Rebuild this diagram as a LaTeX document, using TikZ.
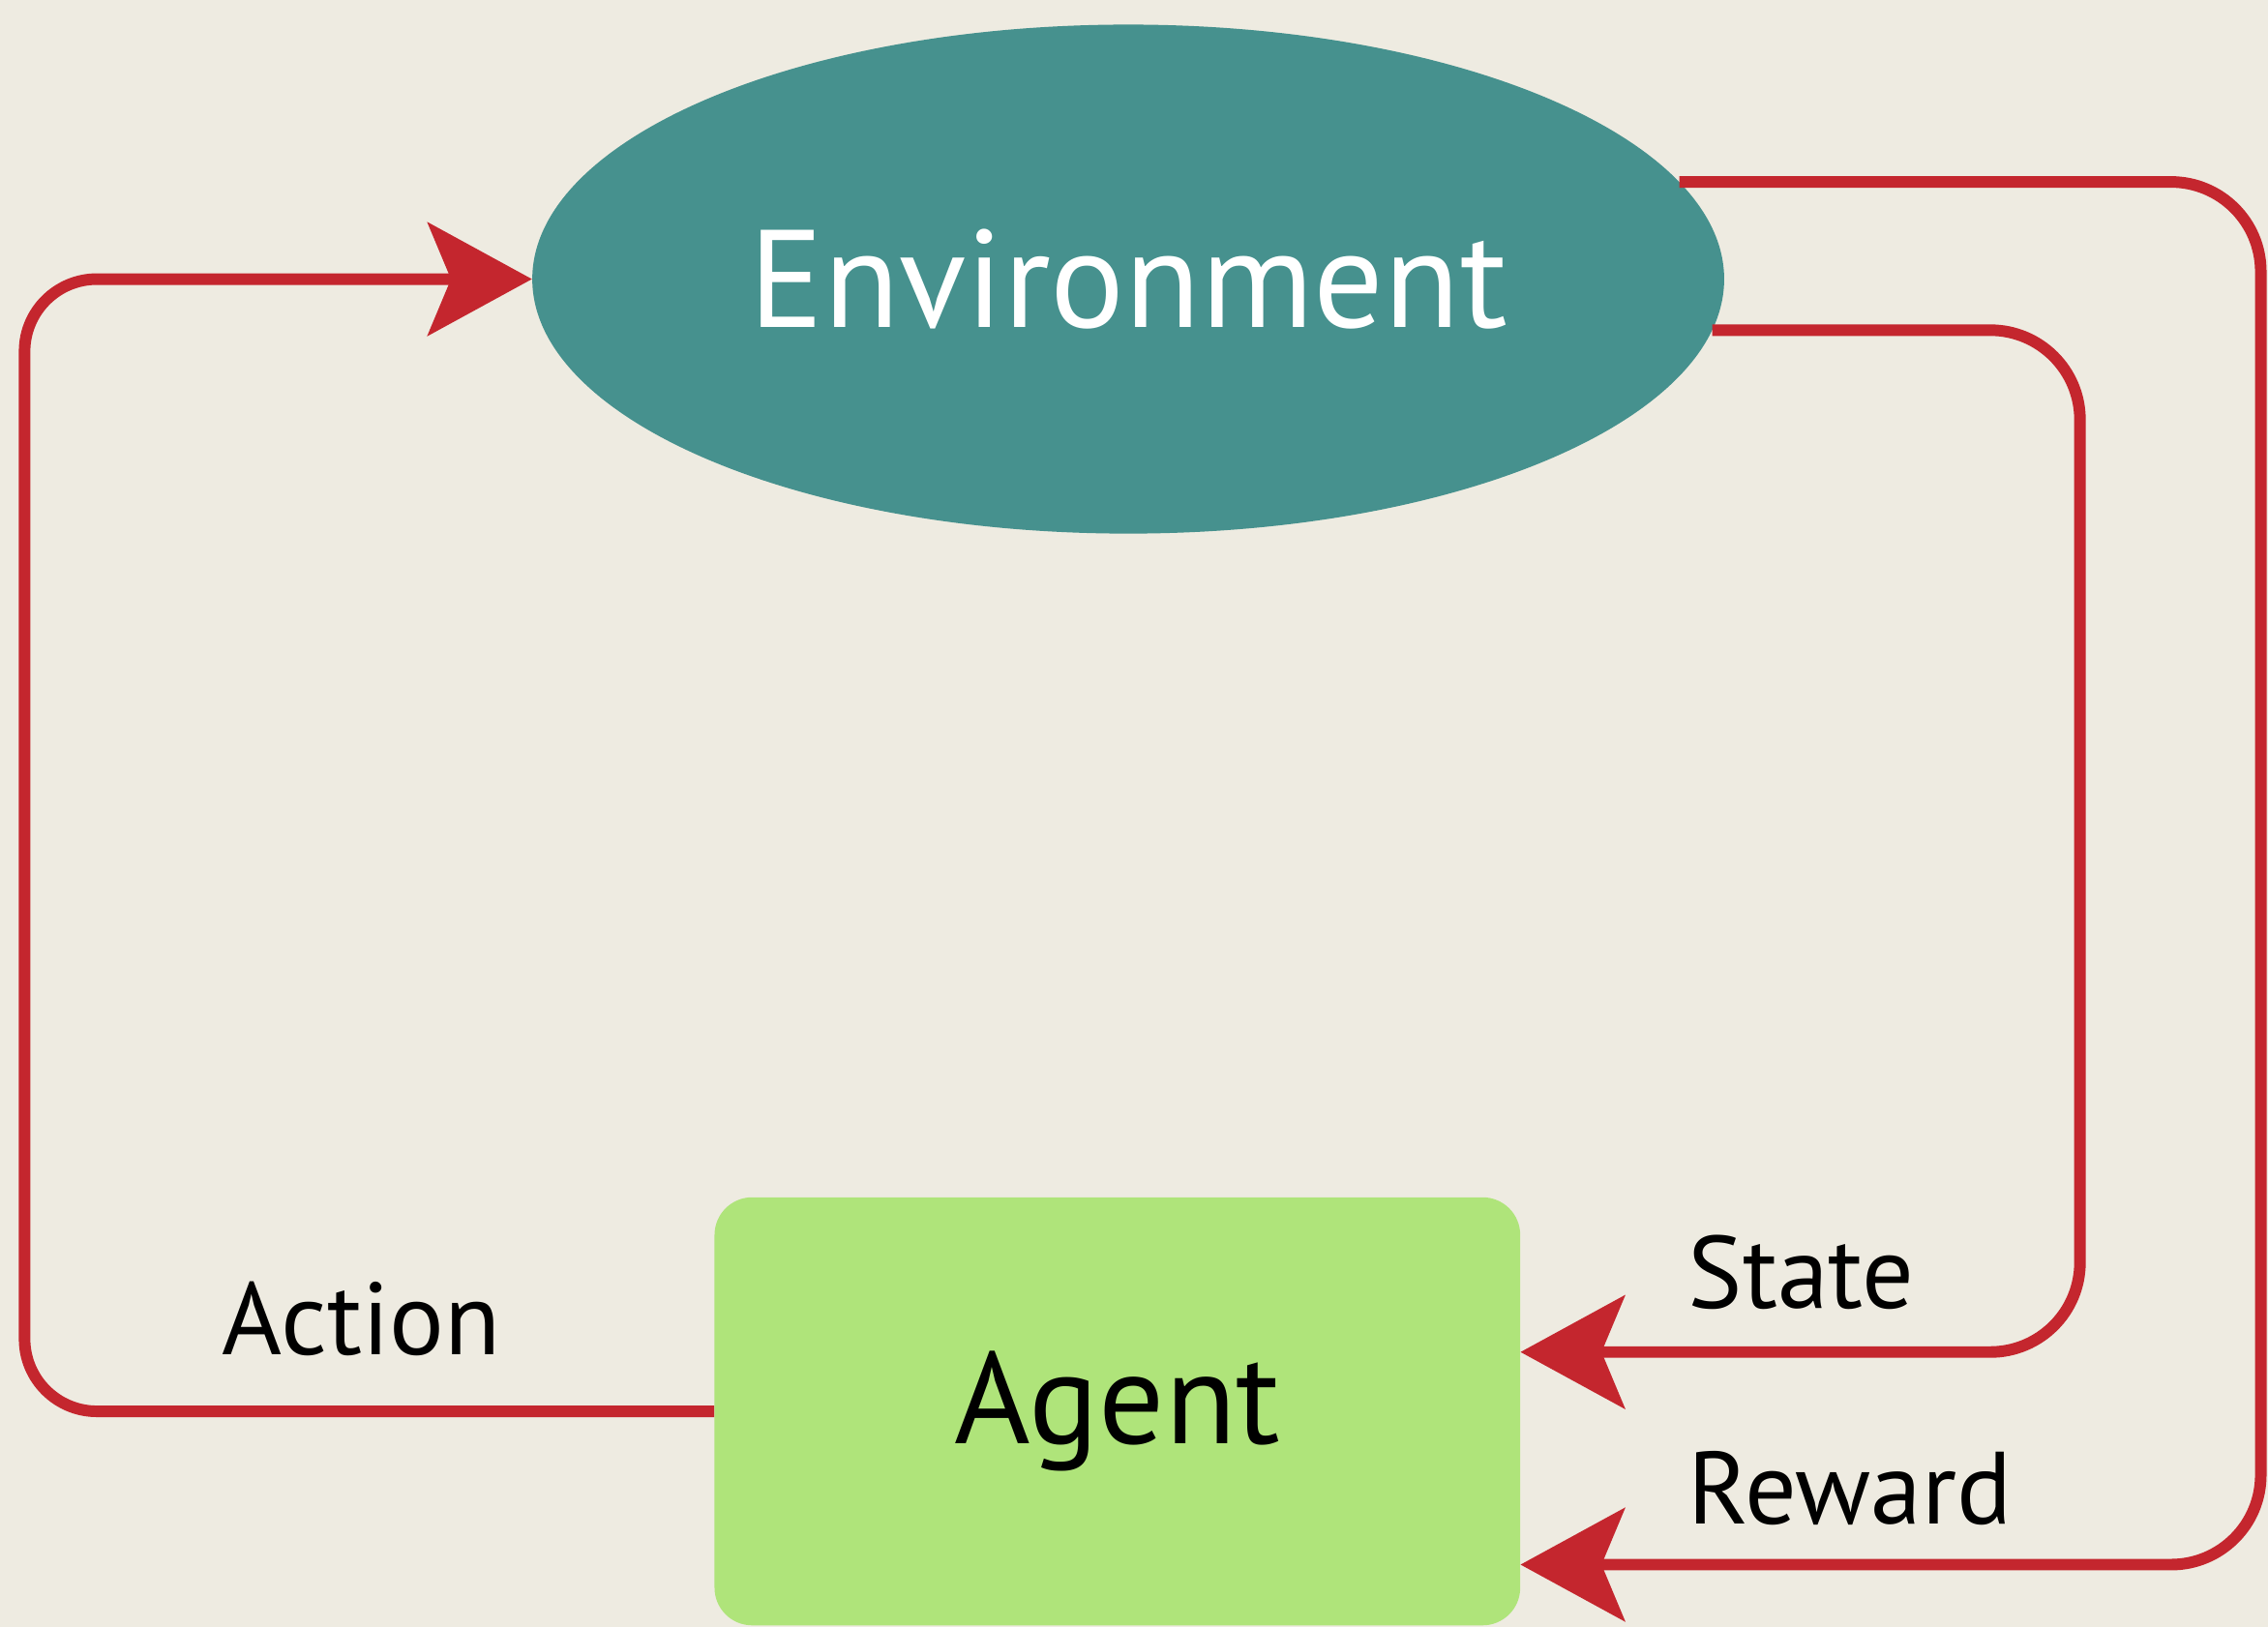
\documentclass[tikz,border=0pt]{standalone}
\usepackage{fontspec}
\setmainfont{PT Sans}
\usetikzlibrary{arrows.meta,shapes.geometric}
\definecolor{bgc}{HTML}{EEEBE1}
\definecolor{tealc}{HTML}{46918E}
\definecolor{greenc}{HTML}{AFE47A}
\definecolor{redc}{HTML}{C4262E}
\tikzset{
  envnode/.style={ellipse, fill=tealc, draw=none, inner sep=0pt, minimum width=824pt, minimum height=352pt, text=white, font=\fontsize{96}{100}\selectfont},
  agentnode/.style={rectangle, rounded corners=26pt, fill=greenc, draw=none, inner sep=0pt, minimum width=557pt, minimum height=296pt, text=black, font=\fontsize{90}{94}\selectfont},
  flow/.style={draw=redc, line width=8pt, rounded corners=62pt, -{Stealth[length=72pt,width=78pt,inset=16pt]}},
  flowlabel/.style={text=black, font=\fontsize{71}{75}\selectfont, inner sep=0pt}
}
\begin{document}
\begin{tikzpicture}[x=1pt,y=1pt]
\fill[bgc] (0,0) rectangle (1568,-1125);
\useasboundingbox (0,0) rectangle (1568,-1125);
\node[envnode] (env) at (780,-193) {Environment};
\node[agentnode] (agent) at (772.5,-976) {Agent};
\coordinate (cL) at (17,-193);
\coordinate (cS) at (1438,-935);
\coordinate (cR) at (1563,-1082);
\draw[flow, rounded corners=50pt] (agent.west) -| (cL) -- (env.west);
\draw[flow] (env.-5.4) -| (cS) -- (agent.east |- cS);
\draw[flow] (env.10.5) -| (cR) -- (agent.east |- cR);
\node[flowlabel] (lact) at (250,-912) {Action};
\node[flowlabel, anchor=west] (lst) at (1167,-880) {State};
\node[flowlabel, anchor=west] (lrw) at (1167,-1029) {Reward};
\end{tikzpicture}
\end{document}
